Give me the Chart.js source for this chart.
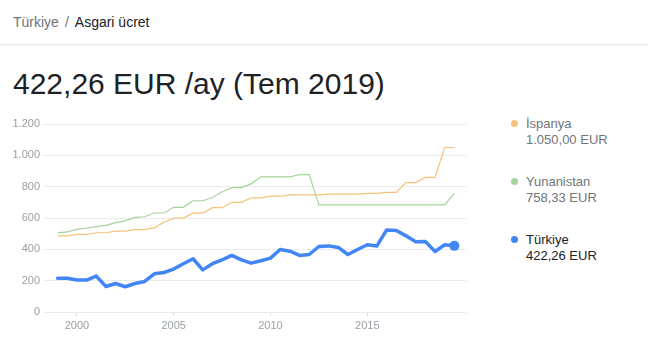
<!DOCTYPE html>
<html>
<head>
<meta charset="utf-8">
<script src="https://cdn.jsdelivr.net/npm/chart.js@4/dist/chart.umd.min.js"></script>
<style>
    body { margin: 0; background: #fff; font-family: "Liberation Sans", Arial, sans-serif; }
    #page { position: relative; width: 648px; height: 349px; overflow: hidden; }
    #crumb { position: absolute; left: 13px; top: 15px; font-size: 14px; line-height: 14px; color: #202124; white-space: nowrap; }
    #crumb .dim { color: #70757a; }
    #crumb .sep { color: #70757a; margin: 0 6px; }
    #divider { position: absolute; left: 0; top: 44px; width: 648px; height: 1px; background: #e6e6e6; }
    #title { position: absolute; left: 13px; top: 69px; font-size: 30px; line-height: 30px; color: #202124; white-space: nowrap; }
    #chartBox { position: absolute; left: 0; top: 110px; width: 480px; height: 230px; }
    .legend-item { position: absolute; left: 526px; font-size: 13px; line-height: 16px; color: #70757a; white-space: nowrap; }
    .legend-item .dot { position: absolute; left: -15px; top: 4px; width: 7px; height: 7px; border-radius: 50%; }
</style>
</head>
<body>
<div id="page">
    <div id="crumb"><span class="dim">Türkiye</span><span class="sep">/</span>Asgari ücret</div>
    <div id="divider"></div>
    <div id="title">422,26 EUR /ay (Tem 2019)</div>
    <div id="chartBox"><canvas id="chart" width="480" height="230"></canvas></div>
    <div id="legend"></div>
</div>
<script>
// half-year periods (January / July)
const periods = [
    1999, 1999.5, 2000, 2000.5, 2001, 2001.5, 2002, 2002.5, 2003, 2003.5,
    2004, 2004.5, 2005, 2005.5, 2006, 2006.5, 2007, 2007.5, 2008, 2008.5,
    2009, 2009.5, 2010, 2010.5, 2011, 2011.5, 2012, 2012.5, 2013, 2013.5,
    2014, 2014.5, 2015, 2015.5, 2016, 2016.5, 2017, 2017.5, 2018, 2018.5,
    2019, 2019.5
];

const turkiye = [
    216, 216, 204, 204, 229, 163, 182, 161, 182, 195,
    244, 252, 274, 308, 340, 269, 308, 333, 361, 333,
    312, 327, 344, 399, 388, 361, 367, 418, 422, 412,
    367, 399, 429, 422, 524, 520, 486, 448, 450, 386,
    429, 422.26
];

const ispanya = [
    486, 486, 496, 496, 506, 506, 516, 516, 526, 526,
    537, 573, 599, 599, 631, 631, 666, 666, 700, 700,
    728, 728, 739, 739, 748, 748, 748, 748, 753, 753,
    753, 753, 757, 757, 764, 764, 826, 826, 859, 859,
    1050, 1050
];

const yunanistan = [
    505, 511, 527, 536, 545, 553, 570, 583, 604, 608,
    632, 632, 668, 668, 710, 710, 731, 768, 794, 794,
    818, 863, 863, 863, 863, 877, 877, 684, 684, 684,
    684, 684, 684, 684, 684, 684, 684, 684, 684, 684,
    684, 758.33
];

const xTicks = [2000, 2005, 2010, 2015];
const yTicks = [0, 200, 400, 600, 800, 1000, 1200];

const seriesNames = ['İspanya', 'Yunanistan', 'Türkiye'];
const seriesColors = ['#f5c27a', '#a6d49d', '#4285f4'];

function fmt(n, dec) {
    let s = n.toFixed(dec);
    let parts = s.split('.');
    parts[0] = parts[0].replace(/\B(?=(\d{3})+(?!\d))/g, '.');
    return parts.join(',');
}

function points(values) {
    return periods.map((p, i) => ({ x: p, y: values[i] }));
}

// legend on the right
const lastValues = [ispanya[ispanya.length - 1], yunanistan[yunanistan.length - 1], turkiye[turkiye.length - 1]];
const legendTops = [116, 174, 232];
let legendHtml = '';
seriesNames.forEach((name, i) => {
    const txtColor = name === 'Türkiye' ? '#202124' : '#70757a';
    legendHtml += `<div class="legend-item" style="top:${legendTops[i]}px;color:${txtColor}">
                       <span class="dot" style="background:${seriesColors[i]}"></span>
                       ${name}<br>${fmt(lastValues[i], 2)} EUR
                   </div>`;
});
document.getElementById('legend').innerHTML = legendHtml;

const ctx = document.getElementById('chart').getContext('2d');

const data = {
    datasets: [{
        label: 'Türkiye',
        data: points(turkiye),
        borderColor: seriesColors[2],
        backgroundColor: seriesColors[2],
        borderWidth: 3.5,
        borderJoinStyle: 'round',
        borderCapStyle: 'round',
        pointRadius: turkiye.map((v, i) => i === turkiye.length - 1 ? 5 : 0),
        pointBorderWidth: 0,
        tension: 0
    }, {
        label: 'Yunanistan',
        data: points(yunanistan),
        borderColor: seriesColors[1],
        borderWidth: 1.2,
        pointRadius: 0,
        tension: 0
    }, {
        label: 'İspanya',
        data: points(ispanya),
        borderColor: seriesColors[0],
        borderWidth: 1.2,
        pointRadius: 0,
        tension: 0
    }]
};

const config = {
    type: 'line',
    data: data,
    options: {
        responsive: false,
        animation: false,
        devicePixelRatio: 1,
        layout: { padding: { top: 14, right: 14, left: 0, bottom: 0 } },
        plugins: {
            legend: { display: false },
            tooltip: { enabled: false }
        },
        scales: {
            x: {
                type: 'linear',
                min: 1998.3,
                max: 2020.1,
                afterBuildTicks: (scale) => { scale.ticks = xTicks.map(v => ({ value: v })); },
                afterFit: (scale) => { scale.height = 28; },
                border: { display: false },
                grid: { drawOnChartArea: false, drawTicks: true, tickLength: 4, color: '#dadce0' },
                ticks: {
                    color: '#9aa0a6',
                    font: { family: 'Liberation Sans', size: 11 },
                    padding: 3,
                    maxRotation: 0,
                    callback: (v) => String(v)
                }
            },
            y: {
                min: 0,
                max: 1200,
                afterBuildTicks: (scale) => { scale.ticks = yTicks.map(v => ({ value: v })); },
                afterFit: (scale) => { scale.width = 44; },
                border: { display: false },
                grid: { drawTicks: false, color: '#ebebeb' },
                ticks: {
                    color: '#9aa0a6',
                    font: { family: 'Liberation Sans', size: 11 },
                    padding: 4,
                    callback: (v) => fmt(v, 0)
                }
            }
        }
    }
};

new Chart(ctx, config);
</script>
</body>
</html>
